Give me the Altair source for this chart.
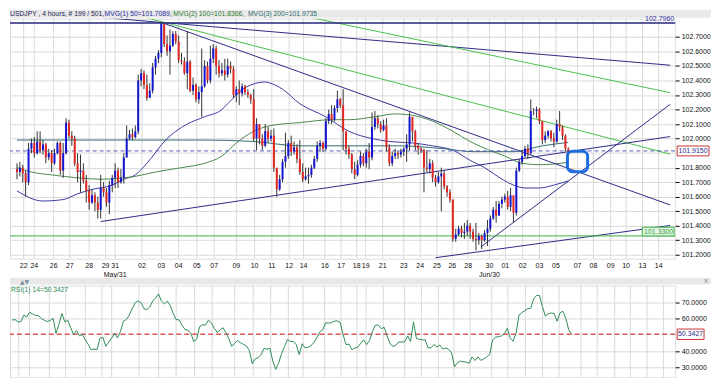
import altair as alt
import pandas as pd

# ---------------- data ----------------
first_open = 101.79
close = [101.77,101.80,101.76,101.70,101.93,101.97,101.90,101.98,101.92,101.96,
         101.87,101.90,101.83,101.90,101.97,101.78,101.90,102.11,102.02,102.00,
         101.83,101.77,101.78,101.71,101.64,101.56,101.61,101.56,101.51,101.66,
         101.63,101.56,101.68,101.73,101.78,101.70,101.73,101.87,102.00,102.03,
         102.01,102.05,102.40,102.45,102.37,102.28,102.33,102.49,102.55,102.59,
         102.79,102.65,102.60,102.64,102.72,102.67,102.54,102.53,102.45,102.53,
         102.33,102.37,102.27,102.32,102.36,102.50,102.40,102.55,102.62,102.50,
         102.45,102.47,102.44,102.50,102.48,102.30,102.34,102.31,102.36,102.32,
         102.30,102.27,102.00,102.10,102.00,101.95,102.05,102.00,102.02,101.80,
         101.65,101.72,101.84,101.88,101.97,101.91,101.94,101.86,101.77,101.72,
         101.74,101.75,101.80,101.86,101.95,101.97,101.93,102.12,102.17,102.13,
         102.21,102.27,102.23,102.05,101.93,101.89,101.79,101.75,101.82,101.88,
         101.83,101.91,101.87,102.08,102.14,102.10,102.06,102.09,101.94,101.83,
         101.88,101.90,101.89,101.91,101.93,101.96,102.15,102.05,101.95,101.93,
         101.92,101.80,101.79,101.83,101.73,101.70,101.74,101.76,101.67,101.63,
         101.58,101.31,101.34,101.38,101.35,101.36,101.40,101.36,101.31,101.30,
         101.33,101.30,101.35,101.38,101.45,101.51,101.47,101.55,101.58,101.60,
         101.53,101.61,101.49,101.78,101.84,101.88,101.93,101.90,102.19,102.19,
         102.20,102.12,101.99,102.02,102.05,102.00,101.98,102.10,102.08,102.02,
         101.93,101.915]
high = [101.83,101.84,101.82,101.78,101.97,102.00,102.01,102.05,102.05,101.99,
        101.97,101.93,101.92,101.93,101.98,101.98,101.97,102.14,102.13,102.05,
        102.02,101.90,101.89,101.83,101.75,101.68,101.65,101.63,101.60,101.75,
        101.70,101.66,101.71,101.75,101.83,101.80,101.79,101.90,102.09,102.06,
        102.07,102.09,102.44,102.48,102.47,102.44,102.38,102.52,102.57,102.61,
        102.80,102.77,102.71,102.75,102.74,102.74,102.71,102.59,102.56,102.74,
        102.54,102.42,102.38,102.36,102.62,102.54,102.53,102.64,102.65,102.64,
        102.54,102.52,102.55,102.55,102.53,102.50,102.36,102.40,102.38,102.37,
        102.34,102.31,102.34,102.14,102.10,102.03,102.10,102.08,102.06,102.07,
        101.79,101.75,101.86,102.04,101.99,102.02,101.98,101.96,101.99,101.83,
        101.80,101.80,101.82,101.88,101.98,101.99,101.98,102.14,102.20,102.23,
        102.23,102.33,102.28,102.34,102.05,101.95,101.90,101.84,101.85,101.91,
        101.90,101.93,101.97,102.18,102.19,102.16,102.12,102.13,102.14,101.96,
        101.91,101.93,101.92,101.93,101.94,102.03,102.18,102.14,102.06,101.97,
        101.94,101.93,101.92,101.86,101.85,101.75,101.77,101.80,101.78,101.68,
        101.65,101.58,101.38,101.40,101.40,101.42,101.44,101.42,101.38,101.42,
        101.35,101.34,101.37,101.44,101.47,101.53,101.57,101.57,101.60,101.62,
        101.64,101.66,101.60,101.80,101.86,101.92,101.95,101.96,102.27,102.21,
        102.22,102.21,102.12,102.05,102.06,102.06,102.04,102.13,102.19,102.09,
        102.03,101.94]
low = [101.72,101.74,101.70,101.60,101.68,101.90,101.87,101.89,101.90,101.89,
       101.83,101.85,101.77,101.82,101.89,101.75,101.73,101.89,102.00,101.95,
       101.81,101.70,101.63,101.69,101.56,101.51,101.55,101.50,101.45,101.45,
       101.60,101.53,101.48,101.63,101.66,101.66,101.69,101.69,101.87,101.99,
       101.99,102.00,102.03,102.36,102.34,102.26,102.29,102.31,102.44,102.52,
       102.56,102.63,102.57,102.44,102.63,102.65,102.52,102.51,102.44,102.34,
       102.32,102.30,102.25,102.24,102.15,102.35,102.38,102.38,102.52,102.44,
       102.42,102.43,102.40,102.42,102.45,102.28,102.25,102.23,102.29,102.30,
       102.28,102.24,101.98,101.92,101.96,101.92,101.94,101.97,101.98,101.77,
       101.60,101.64,101.70,101.80,101.86,101.88,101.89,101.83,101.75,101.70,
       101.71,101.69,101.73,101.79,101.84,101.91,101.91,101.92,102.10,102.10,
       102.12,102.18,102.21,101.92,101.89,101.86,101.76,101.72,101.74,101.80,
       101.81,101.80,101.79,101.85,102.06,102.07,102.04,102.05,101.91,101.81,
       101.81,101.86,101.86,101.87,101.88,101.84,101.92,101.98,101.92,101.89,
       101.90,101.63,101.77,101.76,101.70,101.67,101.69,101.50,101.65,101.60,
       101.56,101.29,101.29,101.33,101.32,101.31,101.33,101.31,101.29,101.23,
       101.27,101.24,101.29,101.26,101.36,101.44,101.42,101.47,101.52,101.56,
       101.51,101.50,101.42,101.47,101.77,101.82,101.87,101.86,101.89,102.16,
       102.14,102.10,101.96,101.97,102.00,101.98,101.94,101.97,102.05,101.99,
       101.91,101.90]

rsi = [59.0,59.4,58.0,58.0,62.1,61.0,63.9,62.9,61.9,61.9,
       60.0,59.0,58.2,58.8,60.2,50.9,56.4,63.1,58.0,59.0,
       54.4,50.3,52.6,49.3,50.3,46.9,44.1,40.8,41.3,40.8,
       47.9,48.5,42.9,45.5,47.9,50.9,48.1,52.0,58.4,59.4,
       62.1,66.1,69.7,70.9,69.9,66.1,65.5,67.1,70.7,72.6,
       75.2,70.7,69.1,70.7,68.1,63.1,59.4,59.2,56.0,53.4,
       52.8,51.1,45.9,47.3,55.0,56.2,56.0,59.0,57.4,54.0,
       51.5,53.0,54.4,51.3,47.5,42.9,44.9,46.5,45.1,44.1,
       43.1,40.2,32.2,35.2,36.0,37.8,41.7,41.1,41.7,33.8,
       28.7,32.8,38.4,42.9,47.1,45.9,45.9,43.9,37.8,44.5,
       41.9,42.3,43.3,45.3,48.1,51.8,53.0,57.4,57.2,57.6,
       58.4,58.6,57.6,49.9,43.9,44.3,40.8,41.9,42.3,44.9,
       46.9,43.9,46.5,52.0,56.0,56.0,53.8,54.6,49.3,44.5,
       42.9,43.5,45.7,45.5,45.7,49.3,45.9,58.0,47.7,47.3,
       46.9,46.9,41.9,42.1,44.1,42.5,43.7,41.3,41.9,41.1,
       38.8,30.3,32.8,33.8,33.4,33.2,32.6,36.4,34.2,36.4,
       34.2,35.2,36.4,37.8,46.9,48.5,48.9,49.3,50.7,54.0,
       47.9,46.1,50.9,62.1,63.7,64.9,66.1,66.3,72.2,74.2,
       74.2,67.5,61.5,62.9,63.5,63.1,58.4,63.5,64.5,60.0,
       53.0,50.34]

ma50_idx = [0,9,16,21,26,33,37,41,45,52,55,59,65,71,73,79,86,88,92,98,107,115,
            123,129,137,144,151,157,162,165,172,176,181,186,191]
ma50_val = [101.64,101.57,101.58,101.62,101.65,101.68,101.72,101.75,101.83,102.00,
            102.05,102.10,102.15,102.20,102.24,102.35,102.39,102.38,102.34,102.24,
            102.15,102.05,102.00,101.98,101.97,101.95,101.92,101.85,101.80,101.76,
            101.68,101.66,101.66,101.68,101.7089]
ma100_idx = [0,5,12,21,29,37,41,48,57,65,71,76,82,88,98,109,115,124,131,137,144,
             151,157,165,169,175,181,191]
ma100_val = [101.80,101.77,101.75,101.73,101.72,101.73,101.74,101.77,101.80,101.83,
             101.88,101.97,102.05,102.09,102.11,102.13,102.13,102.15,102.17,102.16,
             102.12,102.05,101.98,101.91,101.88,101.83,101.82,101.8366]
ma200_idx = [0,15,32,48,65,82,98,115,132,148,158,172,182,191]
ma200_val = [101.99,101.99,101.99,101.99,101.99,101.98,101.95,101.95,101.95,101.93,
             101.91,101.91,101.95,101.9735]

trend_name = ["A", "B", "G1", "G2", "C", "D", "E"]
trend_i0 = [28.3, 50.0, 41.7, 98.3, 29.0, 160.7, 145.0]
trend_p0 = [102.836, 102.80, 102.848, 102.848, 101.429, 101.254, 101.18]
trend_i1 = [226.3, 226.3, 226.3, 226.3, 226.3, 226.3, 226.3]
trend_p1 = [102.505, 101.543, 101.893, 102.316, 102.014, 102.236, 101.402]
trend_col = ["#2b2b86", "#2b2b86", "#4cc04c", "#4cc04c", "#2b2b86", "#2b2b86", "#2b2b86"]

tick_pos = [2.3,6.0,12.7,18.3,25.0,30.7,34.0,43.3,50.0,56.0,62.3,68.3,76.0,82.3,88.3,
            94.3,99.3,106.7,112.3,117.7,120.8,126.7,134.0,139.7,145.5,150.8,156.3,
            163.7,169.2,175.2,181.0,186.7,194.2,199.7,205.7,211.0,216.7,222.3]
tick_lab = ["22","24","26","27","28","29","31","02","03","04","05","07","09","10","11",
            "12","14","16","17","18","19","21","23","24","25","26","28",
            "30","01","02","03","05","07","08","09","10","13","14"]
month_pos = [34.0, 163.7]
month_lab = ["May/31", "Jun/30"]

# labelled price ticks (101.9 is hidden behind the last-price box in the reference)
price_ticks = [101.2,101.3,101.4,101.5,101.6,101.7,101.8,102.0,102.1,102.2,
               102.3,102.4,102.5,102.6,102.7]
hidden_grid = [101.9]
rsi_ticks = [30, 40, 60, 70]

peak_level = 102.796
support_level = 101.33
last_price = 101.915
last_rsi = 50.3427
box_i = [190.7, 197.7]
box_p = [101.913, 101.772]

# ---------------- build ----------------
W, H1, H2 = 668, 241, 92
RIGHT = 704
FONT = "Liberation Sans"
xs = alt.Scale(domain=[-0.7, 226.3], nice=False, zero=False)
ys = alt.Scale(domain=[101.173, 102.825], nice=False, zero=False)
rs = alt.Scale(domain=[23.9, 80.3], nice=False, zero=False)

price_axis = alt.Axis(orient="right", values=price_ticks, format=".4f", grid=True,
                      gridColor="#d9d9d9", tickSize=4, tickColor="#000",
                      labelFontSize=7, labelColor="#111", domain=False,
                      labelPadding=2, labelFont=FONT, title=None)
rsi_axis = alt.Axis(orient="right", values=rsi_ticks, format=".4f", grid=True,
                    gridColor="#d9d9d9", tickSize=4, tickColor="#000",
                    labelFontSize=7, labelColor="#111", domain=False,
                    labelPadding=2, labelFont=FONT, title=None)


def X(f="i"):
    return alt.X(f"{f}:Q", scale=xs, axis=None, title=None)


def YP(f):
    return alt.Y(f"{f}:Q", scale=ys, axis=price_axis, title=None)


def YR(f):
    return alt.Y(f"{f}:Q", scale=rs, axis=rsi_axis, title=None)


opens = [first_open] + close[:-1]
cd = pd.DataFrame({"i": range(len(close)), "o": opens, "c": close, "h": high, "l": low})
cd["dir"] = ["up" if c > o + 0.004 else ("down" if c < o - 0.004 else "flat")
             for o, c in zip(cd["o"], cd["c"])]

ticks_df = pd.DataFrame({"i": tick_pos, "t": tick_lab})
months_df = pd.DataFrame({"i": month_pos, "t": month_lab})
one = pd.DataFrame({"a": [0]})

vgrid = alt.Chart(ticks_df).mark_rule(color="#d9d9d9", strokeWidth=1).encode(x=X())
hgrid = alt.Chart(pd.DataFrame({"p": hidden_grid})).mark_rule(
    color="#d9d9d9", strokeWidth=1).encode(y=YP("p"))

ma_df = pd.concat([
    pd.DataFrame({"name": "ma50", "i": ma50_idx, "p": ma50_val, "col": "#3a3aa0"}),
    pd.DataFrame({"name": "ma100", "i": ma100_idx, "p": ma100_val, "col": "#4a8a4a"}),
    pd.DataFrame({"name": "ma200", "i": ma200_idx, "p": ma200_val, "col": "#336a74"}),
])
ma = alt.Chart(ma_df).mark_line(interpolate="monotone", strokeWidth=1, clip=True).encode(
    x=X(), y=YP("p"), detail="name:N", color=alt.Color("col:N", scale=None))

tr_rows = []
for n, a0, b0, a1, b1, col in zip(trend_name, trend_i0, trend_p0, trend_i1, trend_p1, trend_col):
    tr_rows.append({"name": n, "i": a0, "p": b0, "col": col})
    tr_rows.append({"name": n, "i": a1, "p": b1, "col": col})
trend = alt.Chart(pd.DataFrame(tr_rows)).mark_line(strokeWidth=1, clip=True).encode(
    x=X(), y=YP("p"), detail="name:N", color=alt.Color("col:N", scale=None))

peak = alt.Chart(pd.DataFrame({"p": [peak_level]})).mark_rule(
    color="#24247c", strokeWidth=1.5).encode(y=YP("p"))
supp = alt.Chart(pd.DataFrame({"p": [support_level]})).mark_rule(
    color="#3cb043", strokeWidth=1).encode(y=YP("p"))
lastl = alt.Chart(pd.DataFrame({"p": [last_price]})).mark_rule(
    color="#5a5ab8", strokeWidth=1, strokeDash=[4, 3]).encode(y=YP("p"))

wick = alt.Chart(cd).mark_rule(color="#333333", strokeWidth=1).encode(
    x=X(), y=YP("l"), y2="h:Q")
body = alt.Chart(cd).mark_bar(width=2).encode(
    x=X(), y=YP("o"), y2="c:Q",
    color=alt.Color("dir:N", scale=alt.Scale(domain=["up", "down", "flat"],
                                             range=["#1414d2", "#e3261f", "#9a9a9a"]),
                    legend=None))

hbox = alt.Chart(pd.DataFrame({"i0": [box_i[0]], "i1": [box_i[1]],
                               "p0": [box_p[0]], "p1": [box_p[1]]})).mark_rect(
    filled=False, stroke="#1f6ee0", strokeWidth=3, cornerRadius=5).encode(
    x=alt.X("i0:Q", scale=xs, axis=None), x2="i1:Q", y=YP("p0"), y2="p1:Q")

peak_lab = alt.Chart(pd.DataFrame({"p": [peak_level], "t": ["102.7960"]})).mark_text(
    align="right", baseline="bottom", fontSize=7, font=FONT, color="#3434a0", dy=-1).encode(
    x=alt.value(W - 1), y=YP("p"), text="t:N")
supp_box = alt.Chart(pd.DataFrame({"p": [support_level]})).mark_rect(
    fill="#e6f6e6", stroke="#3cb043", strokeWidth=1).transform_calculate(
    lo="datum.p", hi="datum.p + 0.06").encode(
    x=alt.value(W - 33), x2=alt.value(W - 1), y=YP("lo"), y2="hi:Q")
supp_lab = alt.Chart(pd.DataFrame({"p": [support_level], "t": ["101.3300"]})).mark_text(
    align="right", baseline="bottom", fontSize=7, font=FONT, color="#2f9a36", dy=-1).encode(
    x=alt.value(W - 2), y=YP("p"), text="t:N")

lp = pd.DataFrame({"p": [last_price], "t": ["101.9150"]})
lp_box = alt.Chart(lp).mark_rect(fill="white", stroke="#c83232", strokeWidth=1).transform_calculate(
    lo="datum.p - 0.034", hi="datum.p + 0.034").encode(
    x=alt.value(W + 2), x2=alt.value(W + 34), y=YP("lo"), y2="hi:Q")
lp_txt = alt.Chart(lp).mark_text(fontSize=7, font=FONT, color="#2a2a8a", align="center",
                                 baseline="middle").encode(
    x=alt.value(W + 18), y=YP("p"), text="t:N")

day_lab = alt.Chart(ticks_df).mark_text(fontSize=7, font=FONT, color="#111",
                                        baseline="top").encode(
    x=X(), y=alt.value(H1 + 3), text="t:N")
mon_lab = alt.Chart(months_df).mark_text(fontSize=7, font=FONT, color="#111",
                                         baseline="top").encode(
    x=X(), y=alt.value(H1 + 12), text="t:N")

title_bar = alt.Chart(one).mark_rect(color="#e8e8e8").encode(
    x=alt.value(0), x2=alt.value(RIGHT), y=alt.value(-9), y2=alt.value(-1))
title_parts = [("USDJPY , 4 hours, # 199 / 501,", 0, "#1b1b55"),
               ("MVG(1) 50=101.7089,", 95, "#2b2ba0"),
               ("MVG(2) 100=101.8366,", 164, "#2e7d32"),
               ("MVG(3) 200=101.9735", 239, "#2b6a70")]
titles = [alt.Chart(one).mark_text(text=t, align="left", baseline="bottom", fontSize=6.8,
                                   font=FONT, color=c).encode(
    x=alt.value(px), y=alt.value(-2)) for t, px, c in title_parts]

main = alt.layer(title_bar, *titles, vgrid, hgrid, ma, trend, peak, supp, lastl,
                 wick, body, hbox, peak_lab, supp_box, supp_lab, lp_box, lp_txt,
                 day_lab, mon_lab).properties(width=W, height=H1)

# ---------------- RSI panel ----------------
rd = pd.DataFrame({"i": range(len(rsi)), "r": rsi})
rgrid = alt.Chart(ticks_df).mark_rule(color="#d9d9d9", strokeWidth=1).encode(x=X())
rline = alt.Chart(rd).mark_line(color="#2e8b57", strokeWidth=1).encode(x=X(), y=YR("r"))
rdash = alt.Chart(pd.DataFrame({"r": [last_rsi]})).mark_rule(
    color="#e05555", strokeWidth=1.5, strokeDash=[5, 3]).encode(y=YR("r"))
rl = pd.DataFrame({"r": [last_rsi], "t": ["50.3427"]})
r_box = alt.Chart(rl).mark_rect(fill="white", stroke="#c83232", strokeWidth=1).transform_calculate(
    lo="datum.r - 3.2", hi="datum.r + 3.2").encode(
    x=alt.value(W + 2), x2=alt.value(W + 29), y=YR("lo"), y2="hi:Q")
r_txt = alt.Chart(rl).mark_text(fontSize=7, font=FONT, color="#2a2a8a", align="center",
                                baseline="middle").encode(
    x=alt.value(W + 15.5), y=YR("r"), text="t:N")
r_title = alt.Chart(one).mark_text(text="RSI(1) 14=50.3427", align="left", baseline="top",
                                   fontSize=6.8, font=FONT, color="#2e8b57").encode(
    x=alt.value(1), y=alt.value(1))
strip = alt.Chart(one).mark_rect(color="#e8e8e8").encode(
    x=alt.value(0), x2=alt.value(RIGHT), y=alt.value(-8), y2=alt.value(-1))
arrows = alt.Chart(one).mark_text(text="\u25b2\u25bc", align="left", baseline="middle",
                                  fontSize=6, font="DejaVu Sans", color="#7a8aa0").encode(
    x=alt.value(10), y=alt.value(-4))
closex = alt.Chart(one).mark_text(text="x", align="center", baseline="middle",
                                  fontSize=8, font=FONT, color="#7a8aa0").encode(
    x=alt.value(RIGHT - 5), y=alt.value(-5))

rsi_chart = alt.layer(strip, arrows, closex, rgrid, rdash, rline, r_box, r_txt,
                      r_title).properties(width=W, height=H2)

chart = alt.VConcatChart(vconcat=[main, rsi_chart], spacing=27, bounds="flush").properties(
    padding=0, background="white"
).configure_view(stroke="#1a1a1a", strokeWidth=1).configure(font=FONT)

chart.save("out.html", embed_options={"renderer": "svg", "actions": False})
